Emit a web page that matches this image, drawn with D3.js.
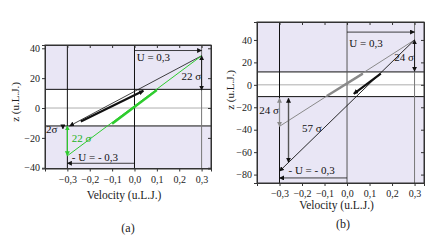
<!DOCTYPE html>
<html>
<head>
<meta charset="utf-8">
<script src="https://cdn.jsdelivr.net/npm/d3@7"></script>
<style>
body { margin: 0; background: #fff; }
svg { display: block; font-family: "Liberation Serif", "DejaVu Serif", serif; }
</style>
</head>
<body>
<svg id="chart" width="436" height="243"></svg>
<script>
// shared ticks
const velTicks = [-0.3, -0.2, -0.1, 0, 0.1, 0.2, 0.3];
const zTicksA = [-40, -20, 0, 20, 40];
const zTicksB = [-80, -60, -40, -20, 0, 20, 40];

// panel (a) values
const bandA = [-12, 12.5];
const blackLineA = [[-0.29, -12], [0.3, 35]];
const blackThickA = [[-0.24, -9], [0.04, 11.5]];
const greenLineA = [[-0.3, -32], [0.3, 35]];
const greenThickA = [[-0.1, -10.5], [0.1, 12]];
const gapBlackA = [[0.3, 35], [0.3, 12]];
const gapGreenA = [[-0.3, -12], [-0.3, -32]];
const tinyGapA = [[-0.32, -12], [-0.32, -14]];
const uArrowA = [[0, 38.5], [0.3, 38.5]];
const minusUArrowA = [[0, -37], [-0.3, -37]];
const labelsA = [
	{ text: 'U = 0,3', v: 0.01, z: 31.5, kind: 'black' },
	{ text: '- U = - 0,3', v: -0.28, z: -35.5, kind: 'black' },
	{ text: '22 σ', v: 0.21, z: 19, kind: 'black' },
	{ text: '22 σ', v: -0.28, z: -22.5, kind: 'green' },
	{ text: '2σ', v: -0.395, z: -16.5, kind: 'black' }
];

// panel (b) values
const bandB = [-10.5, 11.5];
const grayLineB = [[-0.3, -37], [0.3, 40]];
const blackLineB = [[-0.3, -77], [0.3, 40]];
const grayThickB = [[-0.09, -10], [0.07, 10]];
const blackThickB = [[0.03, -8], [0.15, 10]];
const gapBlackB = [[0.3, 40], [0.3, 12]];
const gapGrayB = [[-0.3, -12], [-0.3, -37]];
const gapLongB = [[-0.26, -12], [-0.26, -69]];
const uArrowB = [[0, 47], [0.3, 47]];
const minusUArrowB = [[0, -83], [-0.3, -83]];
const labelsB = [
	{ text: 'U = 0,3', v: 0.01, z: 34, kind: 'black' },
	{ text: '- U = - 0,3', v: -0.26, z: -79.5, kind: 'black' },
	{ text: '24 σ', v: 0.21, z: 21, kind: 'black' },
	{ text: '24 σ', v: -0.39, z: -26, kind: 'black' },
	{ text: '57 σ', v: -0.2, z: -42, kind: 'black' }
];

const colors = { black: '#111', green: '#2ecc2e', gray: '#8a8a8a', dark: '#555', fill: '#e9e6f5' };

const svg = d3.select('#chart');
const defs = svg.append('defs');

Object.keys(colors).forEach(key => {
	defs.append('marker')
		.attr('id', `arrow-${key}`)
		.attr('viewBox', '0 0 10 10')
		.attr('refX', 9)
		.attr('refY', 5)
		.attr('markerWidth', 5)
		.attr('markerHeight', 5)
		.attr('markerUnits', 'userSpaceOnUse')
		.attr('orient', 'auto-start-reverse')
		.append('path')
		.attr('d', 'M0,0L10,5L0,10Z')
		.style('fill', key === 'dark' ? colors.black : colors[key]);
});

const fmt = v => d3.format('.1f')(v).replace('.', ',');

const drawPanel = cfg => {
	const g = svg.append('g');
	const x = d3.scaleLinear().domain([-0.4, 0.342]).range([cfg.left, cfg.right]);
	const y = d3.scaleLinear().domain(cfg.zDomain).range([cfg.bottom, cfg.top]);
	const line = d3.line().x(d => x(d[0])).y(d => y(d[1]));

	// background + white band
	g.append('rect')
		.attr('x', cfg.left).attr('y', cfg.top)
		.attr('width', cfg.right - cfg.left).attr('height', cfg.bottom - cfg.top)
		.style('fill', colors.fill);
	g.append('rect')
		.attr('x', cfg.left).attr('y', y(cfg.band[1]))
		.attr('width', cfg.right - cfg.left).attr('height', y(cfg.band[0]) - y(cfg.band[1]))
		.style('fill', '#fff');

	// reference lines
	g.append('line')
		.attr('x1', cfg.left).attr('x2', cfg.right)
		.attr('y1', y(0)).attr('y2', y(0))
		.style('stroke', '#999').style('stroke-width', 0.8);
	cfg.band.forEach(b => {
		g.append('line')
			.attr('x1', cfg.left).attr('x2', cfg.right)
			.attr('y1', y(b)).attr('y2', y(b))
			.style('stroke', '#111').style('stroke-width', 1);
	});
	[[-0.3, '#111'], [0, cfg.zeroColor], [0.3, '#777']].forEach(([v, c]) => {
		g.append('line')
			.attr('x1', x(v)).attr('x2', x(v))
			.attr('y1', cfg.top).attr('y2', cfg.bottom)
			.style('stroke', c).style('stroke-width', 1);
	});

	// series
	cfg.series.forEach(s => {
		const p = g.append('path')
			.attr('d', line(s.pts))
			.style('fill', 'none')
			.style('stroke', colors[s.kind])
			.style('stroke-width', s.w);
		if (s.end) p.attr('marker-end', `url(#arrow-${s.kind})`);
		if (s.start) p.attr('marker-start', `url(#arrow-${s.kind})`);
	});

	// text labels
	g.selectAll('text.lab')
		.data(cfg.labels)
		.enter()
		.append('text')
		.attr('class', 'lab')
		.attr('x', d => x(d.v))
		.attr('y', d => y(d.z))
		.style('font-size', '11px')
		.style('fill', d => d.kind === 'green' ? '#22b322' : '#111')
		.text(d => d.text);

	// axes
	const ax = g.append('g').style('font-size', '8.5px');
	const bottomAxis = d3.axisBottom(x).tickValues(velTicks).tickSize(3).tickPadding(4).tickFormat(fmt);
	const leftAxis = d3.axisLeft(y).tickValues(cfg.zTicks).tickSize(3).tickPadding(2).tickFormat(d3.format('d'));
	ax.append('g').attr('transform', `translate(0,${cfg.bottom})`).call(bottomAxis);
	ax.append('g').attr('transform', `translate(${cfg.left},0)`).call(leftAxis);
	ax.append('g').attr('transform', `translate(0,${cfg.top})`)
		.call(d3.axisBottom(x).tickValues(velTicks).tickSize(3).tickFormat(''));
	ax.append('g').attr('transform', `translate(${cfg.right},0)`)
		.call(d3.axisLeft(y).tickValues(cfg.zTicks).tickSize(3).tickFormat(''));
	ax.selectAll('.domain').style('stroke', '#333');
	ax.selectAll('.tick line').style('stroke', '#333');
	ax.selectAll('.tick text').style('fill', '#222').style('font-family', '"Liberation Serif", serif');

	g.append('rect')
		.attr('x', cfg.left).attr('y', cfg.top)
		.attr('width', cfg.right - cfg.left).attr('height', cfg.bottom - cfg.top)
		.style('fill', 'none').style('stroke', '#333').style('stroke-width', 1);

	// titles
	g.append('text')
		.attr('x', (cfg.left + cfg.right) / 2 - 4)
		.attr('y', cfg.xTitleY)
		.attr('text-anchor', 'middle')
		.style('font-size', '11.5px').style('fill', '#222')
		.text('Velocity (u.L.J.)');
	g.append('text')
		.attr('transform', `translate(${cfg.yTitleX},${cfg.yTitleMid}) rotate(-90)`)
		.attr('text-anchor', 'middle')
		.style('font-size', '11px').style('fill', '#222')
		.text('z (u.L.J.)');
	g.append('text')
		.attr('x', cfg.tagX).attr('y', cfg.tagY)
		.attr('text-anchor', 'middle')
		.style('font-size', '12px').style('fill', '#222')
		.text(cfg.tag);
};

drawPanel({
	left: 45, right: 211, top: 45, bottom: 168.5,
	zDomain: [-40.5, 42.2], zTicks: zTicksA, band: bandA, zeroColor: '#111',
	series: [
		{ pts: blackLineA, kind: 'black', w: 0.8, start: true },
		{ pts: greenLineA, kind: 'green', w: 1 },
		{ pts: blackThickA, kind: 'black', w: 2.2, end: true },
		{ pts: greenThickA, kind: 'green', w: 2.4 },
		{ pts: gapBlackA, kind: 'black', w: 0.9, start: true, end: true },
		{ pts: gapGreenA, kind: 'green', w: 1.2, start: true, end: true },
		{ pts: tinyGapA, kind: 'black', w: 0.6, end: true },
		{ pts: uArrowA, kind: 'black', w: 0.8, end: true },
		{ pts: minusUArrowA, kind: 'black', w: 0.8, end: true }
	],
	labels: labelsA,
	xTitleY: 199, yTitleX: 19, yTitleMid: 102,
	tag: '(a)', tagX: 128, tagY: 232
});

drawPanel({
	left: 257, right: 424, top: 22, bottom: 183,
	zDomain: [-87.5, 56], zTicks: zTicksB, band: bandB, zeroColor: '#555',
	series: [
		{ pts: grayLineB, kind: 'gray', w: 1 },
		{ pts: blackLineB, kind: 'black', w: 0.9, start: true },
		{ pts: grayThickB, kind: 'gray', w: 2.4 },
		{ pts: blackThickB, kind: 'black', w: 2.2, start: true },
		{ pts: gapBlackB, kind: 'black', w: 0.9, start: true, end: true },
		{ pts: gapGrayB, kind: 'gray', w: 1.2, start: true, end: true },
		{ pts: gapLongB, kind: 'dark', w: 1.4, start: true, end: true },
		{ pts: uArrowB, kind: 'black', w: 0.8, end: true },
		{ pts: minusUArrowB, kind: 'black', w: 0.8, end: true }
	],
	labels: labelsB,
	xTitleY: 209, yTitleX: 234, yTitleMid: 90,
	tag: '(b)', tagX: 343, tagY: 228
});
</script>
</body>
</html>
